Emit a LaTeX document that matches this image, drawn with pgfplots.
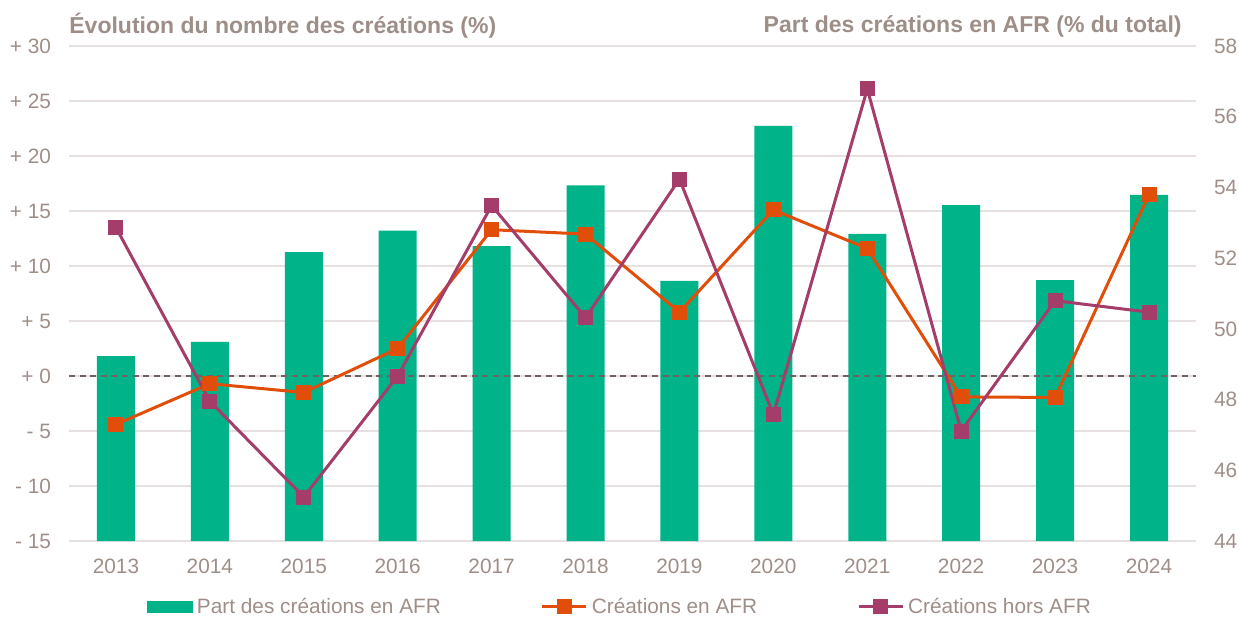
\documentclass[border=0pt]{standalone}
\usepackage{fontspec}
\setmainfont{Liberation Sans}
\usepackage{pgfplots}
\usepackage{pgfplotstable}
\pgfplotsset{compat=1.18}

\definecolor{barGreen}{HTML}{00B388}
\definecolor{lineOrange}{HTML}{E04E0A}
\definecolor{linePurple}{HTML}{A53D6B}
\definecolor{txtGray}{HTML}{9E8E88}
\definecolor{gridGray}{HTML}{E6E0E0}
\definecolor{dashGray}{HTML}{6F6262}

% share of creations in AFR (% of total), right axis
\pgfplotstableread{
year part
2013 49.23
2014 49.63
2015 52.17
2016 52.78
2017 52.34
2018 54.06
2019 51.36
2020 55.74
2021 52.69
2022 53.50
2023 51.38
2024 53.79
}\partdata

% change in number of creations (%), left axis
\pgfplotstableread{
year afr hors
2013 -4.4 13.5
2014 -0.7 -2.3
2015 -1.5 -11.0
2016 2.5 0.0
2017 13.3 15.5
2018 12.9 5.3
2019 5.8 17.9
2020 15.1 -3.5
2021 11.6 26.1
2022 -1.9 -5.0
2023 -1.95 6.85
2024 16.5 5.8
}\evodata

\begin{document}
\begin{tikzpicture}
\useasboundingbox (-34.5pt,-38.5pt) rectangle (585pt,270.5pt);
\pgfplotsset{
  base/.style={
    scale only axis, width=563.5pt, height=247.5pt,
    xmin=2012.5, xmax=2024.5,
    axis line style={draw=none},
    major tick length=0pt,
    tick label style={font=\fontsize{10.4}{12}\selectfont, text=txtGray},
    /pgf/number format/assume math mode=true,
    /pgf/number format/1000 sep={},
  },
}

% grid, left labels, years
\begin{axis}[base,
  ymin=-15, ymax=30,
  ytick={-15,-10,...,30},
  yticklabels={- 15,- 10,- 5,+ 0,+ 5,+ 10,+ 15,+ 20,+ 25,+ 30},
  yticklabel style={xshift=-5.5pt},
  xtick={2013,...,2024},
  xticklabel style={yshift=-5.5pt},
  ymajorgrids, grid style={gridGray, line width=0.8pt},
]
\end{axis}

% bars on the right axis
\begin{axis}[base,
  ymin=44, ymax=58,
  axis y line*=right,
  ytick={44,46,...,58},
  yticklabel style={xshift=5.5pt},
  xtick=\empty,
]
\addplot[ybar, bar width=19pt, fill=barGreen, draw=none] table[x=year, y=part] {\partdata};
\end{axis}

% lines on the left axis
\begin{axis}[base, name=main,
  ymin=-15, ymax=30,
  xtick=\empty, ytick=\empty,
  legend columns=3,
  legend style={at={(0.4898,-0.1333)}, anchor=center, draw=none, fill=none,
    font=\fontsize{10.4}{12}\selectfont, text=txtGray,
    /tikz/every even column/.append style={column sep=48pt}},
  legend image code/.code={\draw[mark repeat=2,mark phase=2,#1] plot coordinates {(0pt,0pt) (11pt,0pt) (22pt,0pt)};},
]
\draw[dashGray, line width=0.8pt, dash pattern=on 3pt off 2.3pt] (axis cs:2012.5,0) -- (axis cs:2024.5,0);
\addlegendimage{legend image code/.code={\fill[barGreen] (0pt,-2.75pt) rectangle (22.5pt,2.75pt);}}
\addlegendentry{Part des créations en AFR}
\addplot[lineOrange, line width=1.5pt, mark=square*, mark size=3pt, mark options={solid}] table[x=year, y=afr] {\evodata};
\addlegendentry{Créations en AFR}
\addplot[linePurple, line width=1.5pt, mark=square*, mark size=3pt, mark options={solid}] table[x=year, y=hors] {\evodata};
\addlegendentry{Créations hors AFR}
\end{axis}
\node[anchor=west, inner sep=0pt, text=txtGray, font=\bfseries\fontsize{11.5}{13}\selectfont] at ([yshift=10pt]main.north west) {Évolution du nombre des créations (\%)};
\node[anchor=east, inner sep=0pt, text=txtGray, font=\bfseries\fontsize{11.5}{13}\selectfont] at ([xshift=-7pt, yshift=10pt]main.north east) {Part des créations en AFR (\% du total)};
\end{tikzpicture}
\end{document}
